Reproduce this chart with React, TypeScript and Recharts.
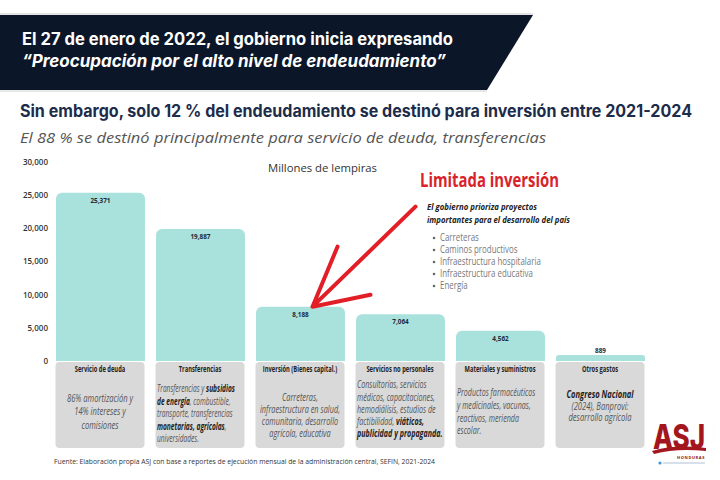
import React from "react";
import { ComposedChart, Bar, XAxis, YAxis, LabelList } from "recharts";

// valores en millones de lempiras, 2021-2024
const categories = [
  "Servicio de deuda",
  "Transferencias",
  "Inversión (Bienes capital.)",
  "Servicios no personales",
  "Materiales y suministros",
  "Otros gastos",
];
const values = [25371, 19887, 8188, 7064, 4562, 889];
const yTicks = [0, 5000, 10000, 15000, 20000, 25000, 30000];

// texto de cada recuadro gris; **...** va en negrita
const boxDescriptions: string[][] = [
  ["86% amortización y", "14% intereses y", "comisiones"],
  [
    "Transferencias y **subsidios**",
    "**de energía**, combustible,",
    "transporte, transferencias",
    "**monetarias, agrícolas**,",
    "universidades.",
  ],
  ["Carreteras,", "infraestructura en salud,", "comunitaria, desarrollo", "agrícola, educativa"],
  [
    "Consultorías, servicios",
    "médicos, capacitaciones,",
    "hemodiálisis, estudios de",
    "factibilidad, **viáticos,**",
    "**publicidad y propaganda.**",
  ],
  ["Productos farmacéuticos", "y medicinales, vacunas,", "reactivos, merienda", "escolar."],
  ["**Congreso Nacional**", "(2024), Banprovi:", "desarrollo agrícola"],
];

const priorityLines = ["El gobierno prioriza proyectos", "importantes para el desarrollo del país"];
const priorityItems = [
  "Carreteras",
  "Caminos productivos",
  "Infraestructura hospitalaria",
  "Infraestructura educativa",
  "Energía",
];

const data = categories.map((name, i) => ({ name, value: values[i] }));

// maquetación de los recuadros (alineación, primera línea, interlineado, tamaño, compresión)
const descLayout = [
  { align: "middle", y0: 402, lh: 13.5, fs: 11.5, sx: 0.66 },
  { align: "start", y0: 392.5, lh: 12.4, fs: 10, sx: 0.66 },
  { align: "middle", y0: 401.5, lh: 12, fs: 10.5, sx: 0.7 },
  { align: "start", y0: 388.5, lh: 12.2, fs: 10.5, sx: 0.68 },
  { align: "start", y0: 396.5, lh: 12.6, fs: 10.5, sx: 0.68 },
  { align: "middle", y0: 398.5, lh: 11.5, fs: 11, sx: 0.69 },
];

const FONT = "'Open Sans', sans-serif";
const HEAD = "Inter, 'Open Sans', sans-serif";

const squeeze = (x: number, s: number) => `translate(${x},0) scale(${s},1) translate(${-x},0)`;

function parseBold(line: string) {
  return line.split("**").map((t, k) => ({ t, bold: k % 2 === 1 })).filter((s) => s.t.length);
}

function CategoryBox(props: any) {
  const { x, y, payload } = props;
  const i = categories.indexOf(payload.value);
  const w = 89;
  const left = x - w / 2;
  const top = y + 1;
  const lay = descLayout[i];
  const tx = lay.align === "middle" ? x : left + 1.5;
  return (
    <g>
      <rect x={left} y={top} width={w} height={86} rx={4} fill="#d9d9d9" />
      <text
        x={x}
        y={top + 10}
        textAnchor="middle"
        fontFamily={FONT}
        fontSize={8.5}
        fontWeight={700}
        fill="#222"
        transform={squeeze(x, 0.68)}
      >
        {categories[i]}
      </text>
      {boxDescriptions[i].map((line, k) => (
        <text
          key={k}
          x={tx}
          y={lay.y0 + k * lay.lh}
          textAnchor={lay.align}
          fontFamily={FONT}
          fontSize={lay.fs}
          fontStyle="italic"
          fill="#555"
          transform={squeeze(tx, lay.sx)}
        >
          {parseBold(line).map((seg, j) => (
            <tspan key={j} fontWeight={seg.bold ? 700 : 400} fill={seg.bold ? "#1e1e1e" : "#555"}>
              {seg.t}
            </tspan>
          ))}
        </text>
      ))}
    </g>
  );
}

function Arrow({ tipX, tipY }: { tipX: number; tipY: number }) {
  const d =
    `M${tipX + 103},${tipY - 100} L${tipX},${tipY} ` +
    `M${tipX + 25},${tipY - 60} L${tipX},${tipY} L${tipX + 58},${tipY - 12}`;
  return (
    <path d={d} fill="none" stroke="#e21f26" strokeWidth={4} strokeLinecap="round" strokeLinejoin="round" />
  );
}

function ValueLabel(props: any) {
  const { x, y, width, height, value, index } = props;
  const cx = x + width / 2;
  const small = height < 20;
  return (
    <g>
      <text
        x={cx}
        y={small ? y - 2 : y + 10}
        textAnchor="middle"
        fontFamily={FONT}
        fontSize={7.5}
        fontWeight={700}
        fill="#1d2b3a"
        transform={squeeze(cx, 0.85)}
      >
        {Number(value).toLocaleString("en-US")}
      </text>
      {categories[index] === "Inversión (Bienes capital.)" && <Arrow tipX={cx + 12} tipY={y} />}
    </g>
  );
}

export default function App() {
  return (
    <div style={{ position: "relative", width: 720, height: 480, background: "#fff" }}>
      <style>{"body{margin:0}"}</style>
      <ComposedChart
        width={720}
        height={480}
        data={data}
        margin={{ top: 162, right: 70, bottom: 0, left: 0 }}
      >
        <YAxis
          width={50}
          domain={[0, 30000]}
          ticks={yTicks}
          axisLine={false}
          tickLine={false}
          tickSize={0}
          tickMargin={2}
          tick={{ fontSize: 8, fontWeight: 600, fill: "#333", fontFamily: FONT }}
          tickFormatter={(v) => Number(v).toLocaleString("en-US")}
        />
        <XAxis
          dataKey="name"
          height={119}
          axisLine={false}
          tickLine={false}
          tickSize={0}
          tickMargin={0}
          interval={0}
          tick={<CategoryBox />}
        />
        <Bar dataKey="value" barSize={89} fill="#a9e1dd" radius={[6, 6, 0, 0]} isAnimationActive={false}>
          <LabelList dataKey="value" content={<ValueLabel />} />
        </Bar>
      </ComposedChart>

      <svg
        width={720}
        height={480}
        style={{ position: "absolute", left: 0, top: 0, pointerEvents: "none" }}
      >
        <line x1={0} y1={14} x2={533} y2={14} stroke="#c8c8c8" strokeWidth={1} />
        <polygon points="0,15 533,15 487,90 0,90" fill="#0b1729" />
        <line x1={0} y1={91} x2={487} y2={91} stroke="#d0d0d0" strokeWidth={1} />
        <text x={22} y={45} fontFamily={HEAD} fontSize={17} fontWeight={700} fill="#fff" textLength={431} lengthAdjust="spacingAndGlyphs">
          El 27 de enero de 2022, el gobierno inicia expresando
        </text>
        <text x={22} y={67} fontFamily={HEAD} fontSize={17} fontWeight={700} fontStyle="italic" fill="#fff" textLength={424} lengthAdjust="spacingAndGlyphs">
          “Preocupación por el alto nivel de endeudamiento”
        </text>

        <text x={20} y={117} fontFamily={HEAD} fontSize={17} fontWeight={700} fill="#1c2c4a" textLength={672} lengthAdjust="spacingAndGlyphs">
          Sin embargo, solo 12 % del endeudamiento se destinó para inversión entre 2021-2024
        </text>
        <text x={20} y={143} fontFamily={FONT} fontSize={15} fontStyle="italic" fill="#555" textLength={526} lengthAdjust="spacingAndGlyphs">
          El 88 % se destinó principalmente para servicio de deuda, transferencias
        </text>

        <text x={268} y={172} fontFamily={FONT} fontSize={11} fill="#333" textLength={109} lengthAdjust="spacingAndGlyphs">
          Millones de lempiras
        </text>

        <text x={420} y={187} fontFamily={FONT} fontSize={19} fontWeight={700} fill="#d8232a" textLength={139} lengthAdjust="spacingAndGlyphs">
          Limitada inversión
        </text>
        {priorityLines.map((t, k) => (
          <text
            key={t}
            x={427}
            y={210 + k * 13}
            fontFamily={FONT}
            fontSize={9}
            fontWeight={700}
            fontStyle="italic"
            fill="#222"
            textLength={k === 0 ? 110 : 143}
            lengthAdjust="spacingAndGlyphs"
          >
            {t}
          </text>
        ))}
        {priorityItems.map((t, k) => (
          <g key={t}>
            <circle cx={434} cy={238 + k * 12} r={1.3} fill="#666" />
            <text x={440} y={241.5 + k * 12} fontFamily={FONT} fontSize={10} fill="#777" transform={squeeze(440, 0.79)}>
              {t}
            </text>
          </g>
        ))}

        <text x={54} y={464} fontFamily={FONT} fontSize={7.5} fill="#333" textLength={381} lengthAdjust="spacingAndGlyphs">
          Fuente: Elaboración propia ASJ con base a reportes de ejecución mensual de la administración central, SEFIN, 2021-2024
        </text>

        {/* logo */}
        <text x={653} y={449} fontFamily={HEAD} fontSize={34} fontWeight={800} fill="#a4161d" textLength={52} lengthAdjust="spacingAndGlyphs">
          ASJ
        </text>
        <path d="M652,451 Q675,444 706,448 L706,451 Q676,448 654,454 Z" fill="#a4161d" />
        <text x={705} y={459} textAnchor="end" fontFamily={FONT} fontSize={4} fontWeight={700} fill="#8a1318" letterSpacing={0.6}>
          HONDURAS
        </text>
        <circle cx={660} cy={463} r={1.6} fill="#3a9ad9" />
        <line x1={663} y1={463} x2={705} y2={463} stroke="#9aaecc" strokeWidth={0.8} />
      </svg>
    </div>
  );
}
